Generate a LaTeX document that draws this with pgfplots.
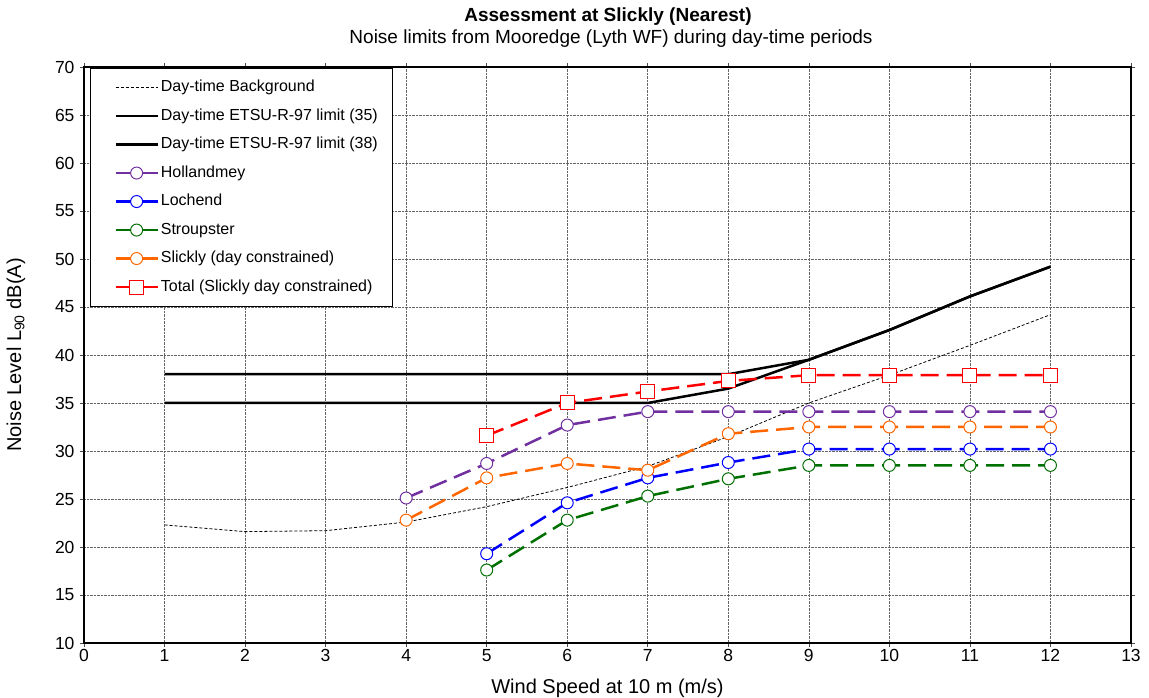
\documentclass[border=0pt]{standalone}
\usepackage{pgfplots}
\pgfplotsset{compat=1.18}
\usepackage{fontspec}
\setmainfont{Liberation Sans}
\definecolor{cpurple}{RGB}{112,48,160}
\definecolor{cblue}{RGB}{0,0,255}
\definecolor{cgreen}{RGB}{0,112,0}
\definecolor{corange}{RGB}{255,102,0}
\definecolor{cred}{RGB}{255,0,0}
\begin{document}
\begin{tikzpicture}[x=1pt,y=1pt]
\useasboundingbox (-84,-55) rectangle (1065,643);
\begin{axis}[
  at={(0,0)}, anchor=south west,
  width=1047pt, height=576pt, scale only axis,
  xmin=0, xmax=13, ymin=10, ymax=70,
  xtick={0,1,...,13}, ytick={10,15,...,70},
  grid=major,
  major grid style={densely dotted, black!60, line width=0.6pt},
  axis line style={line width=1.2pt},
  tick align=outside, major tick length=4pt,
  tick style={black!70, line width=0.6pt},
  ticklabel style={font=\fontsize{17.5}{19}\selectfont},
  xticklabel style={yshift=1pt},
  yticklabel style={xshift=-2pt},
  /pgf/number format/assume math mode=true,
  xlabel={Wind Speed at 10 m (m/s)},
  ylabel={Noise Level L\textsubscript{90} dB(A)},
  every axis x label/.style={at={(axis description cs:0.5,0)}, anchor=center, yshift=-45pt, font=\fontsize{20}{22}\selectfont},
  every axis y label/.style={at={(axis description cs:0,0.5)}, anchor=center, xshift=-68pt, rotate=90, font=\fontsize{20}{22}\selectfont},
  legend cell align=left,
  legend style={at={(axis description cs:0.0057,0.998)}, anchor=north west,
    draw=black, line width=0.8pt, fill=white,
    font=\fontsize{16}{18}\selectfont,
    inner xsep=13pt, inner ysep=9pt,
    nodes={text height=11pt, text depth=3pt, inner ysep=3pt},
    row sep=8.5pt},
  legend image code/.code={\path (0pt,0pt); \draw[mark repeat=2,mark phase=2,#1] plot coordinates {(11pt,0pt) (32pt,0pt) (53pt,0pt)};},
  ser/.style={line width=2.5pt, dash pattern=on 18pt off 8pt, mark=*, mark size=6pt, mark options={solid, fill=white, line width=1pt}},
]
\addplot[black, line width=0.8pt, dash pattern=on 3pt off 2pt] coordinates {
(1,22.3) (2,21.6) (3,21.7) (4,22.6) (5,24.2) (6,26.2) (7,28.4) (8,31.5) (9,35.0) (10,37.9) (11,41.0) (12,44.2)};
\addlegendentry{Day-time Background}
\addplot[black, line width=2.5pt] coordinates {
(1,35) (2,35) (3,35) (4,35) (5,35) (6,35) (7,35) (8,36.5) (9,39.5) (10,42.6) (11,46.1) (12,49.2)};
\addlegendentry{Day-time ETSU-R-97 limit (35)}
\addplot[black, line width=2.5pt] coordinates {
(1,38) (2,38) (3,38) (4,38) (5,38) (6,38) (7,38) (8,38) (9,39.5) (10,42.6) (11,46.1) (12,49.2)};
\addlegendentry{Day-time ETSU-R-97 limit (38)}
\addplot[cpurple, ser] coordinates {
(4,25.1) (5,28.7) (6,32.7) (7,34.1) (8,34.1) (9,34.1) (10,34.1) (11,34.1) (12,34.1)};
\addlegendentry{Hollandmey}
\addplot[cblue, ser] coordinates {
(5,19.3) (6,24.6) (7,27.2) (8,28.8) (9,30.2) (10,30.2) (11,30.2) (12,30.2)};
\addlegendentry{Lochend}
\addplot[cgreen, ser] coordinates {
(5,17.6) (6,22.8) (7,25.3) (8,27.1) (9,28.5) (10,28.5) (11,28.5) (12,28.5)};
\addlegendentry{Stroupster}
\addplot[corange, ser] coordinates {
(4,22.8) (5,27.2) (6,28.7) (7,28.0) (8,31.8) (9,32.5) (10,32.5) (11,32.5) (12,32.5)};
\addlegendentry{Slickly (day constrained)}
\addplot[cred, ser, mark=square*, mark size=7pt] coordinates {
(5,31.6) (6,35.0) (7,36.2) (8,37.3) (9,37.9) (10,37.9) (11,37.9) (12,37.9)};
\addlegendentry{Total (Slickly day constrained)}
\end{axis}
\node[font=\bfseries\fontsize{19}{21}\selectfont] at (524,626) {Assessment at Slickly (Nearest)};
\node[font=\fontsize{19}{21}\selectfont] at (527,604) {Noise limits from Mooredge (Lyth WF) during day-time periods};
\end{tikzpicture}
\end{document}
